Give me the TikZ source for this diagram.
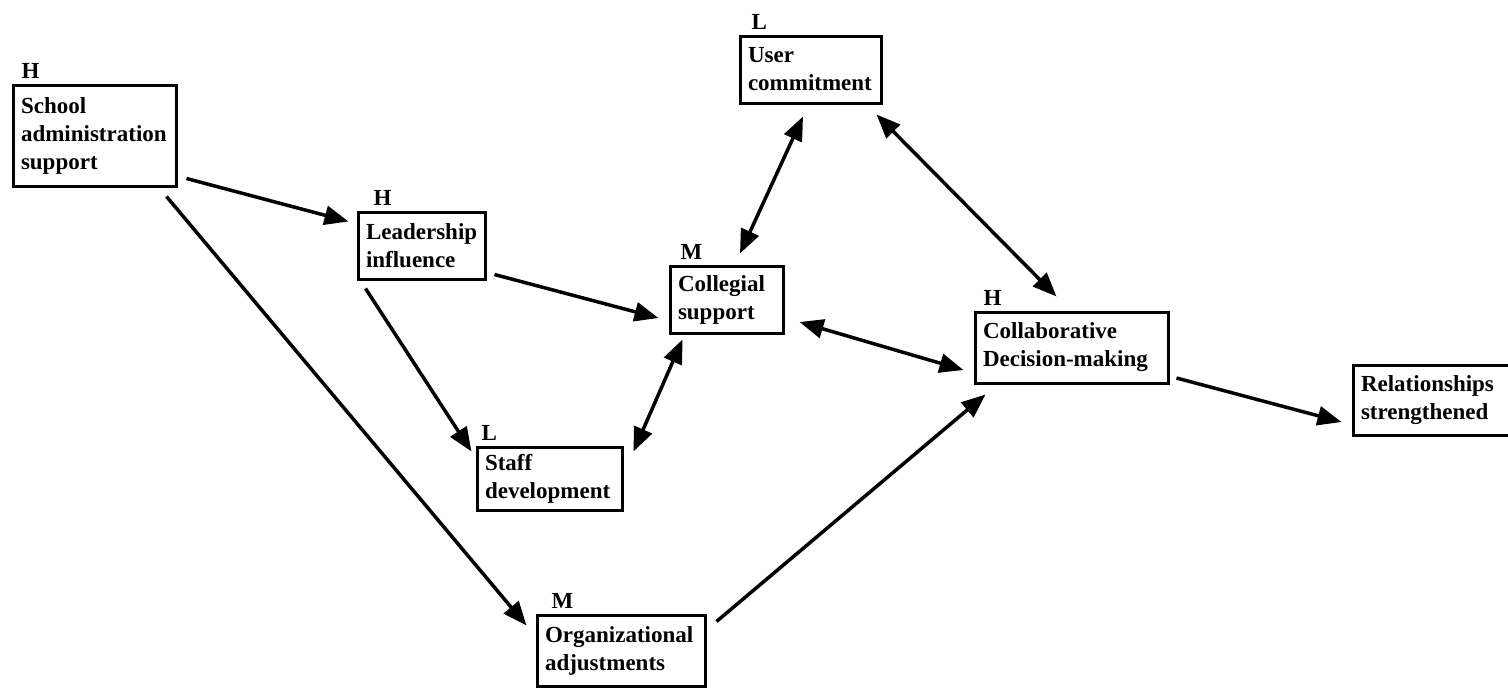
\documentclass[tikz,border=0pt]{standalone}
\usepackage{fontspec}
\setmainfont{Liberation Serif}
\usetikzlibrary{arrows.meta,calc}
\tikzset{
  box/.style={draw, line width=3pt, align=left, inner xsep=7pt, inner ysep=0pt},
  lvl/.style={anchor=south west, inner sep=0pt, yshift=5pt},
  tip/.tip={Triangle[length=24pt,width=19pt]},
  oneway/.style={line width=3.5pt, -tip},
  twoway/.style={line width=3.5pt, tip-tip}
}
\begin{document}
\begin{tikzpicture}[x=1pt, y=-1pt, font=\fontsize{23}{28}\selectfont\bfseries]
\useasboundingbox (0,0) rectangle (1508,689);
\clip (0,0) rectangle (1508,689);

% factor boxes with their level ratings
\node[box, minimum width=163pt, minimum height=101pt, text width=147pt,
      label={[lvl, xshift=10pt]north west:H}] (school) at (94.5,135.5)
      {School\\administration\\support};
\node[box, minimum width=127pt, minimum height=67pt, text width=111pt,
      label={[lvl, xshift=17pt]north west:H}] (lead) at (421.5,245.5)
      {Leadership\\influence};
\node[box, minimum width=141pt, minimum height=67pt, text width=125pt,
      label={[lvl, xshift=13pt]north west:L}] (user) at (810.5,69.5)
      {User\\commitment};
\node[box, minimum width=113pt, minimum height=67pt, text width=97pt,
      label={[lvl, xshift=12pt]north west:M}] (coll) at (726.5,299.5)
      {Collegial\\support};
\node[box, minimum width=193pt, minimum height=71pt, text width=177pt,
      label={[lvl, xshift=10pt]north west:H}] (collab) at (1071.5,347.5)
      {Collaborative\\Decision-making};
% this box runs on past the right edge
\node[box, minimum width=190pt, minimum height=70pt, text width=174pt] (rel) at (1448,400)
      {Relationships\\strengthened};
\node[box, minimum width=145pt, minimum height=63pt, text width=129pt,
      label={[lvl, xshift=6pt]north west:L}] (staff) at (549.5,478.5)
      {Staff\\development};
\node[box, minimum width=168pt, minimum height=71pt, text width=152pt,
      label={[lvl, xshift=16pt]north west:M}] (org) at (621,650.5)
      {Organizational\\adjustments};

% one-way influences
\draw[oneway] ($(school.south east)+(9,-9)$) -- ($(lead.north west)+(-8,11)$);
\draw[oneway] ($(school.south east)+(-11,9)$) -- ($(org.north west)+(-9,12)$);
\draw[oneway] ($(lead.south east)+(8,-6)$) -- ($(coll.west)+(-10,18.5)$);
\draw[oneway] ($(lead.south west)+(9,8)$) -- ($(staff.north west)+(-4,6)$);
\draw[oneway] ($(org.north east)+(10,8)$) -- ($(collab.south west)+(12,10)$);
\draw[oneway] ($(collab.east)+(7,30.5)$) -- ($(rel.west)+(-10,22)$);

% mutual influences
\draw[twoway] ($(staff.north east)+(10,6)$) -- ($(coll.south west)+(14,5)$);
\draw[twoway] ($(coll.north)+(13.5,-11)$) -- ($(user.south)+(-7.5,12)$);
\draw[twoway] ($(user.south east)+(-6,10)$) -- ($(collab.north west)+(83,-14)$);
\draw[twoway] ($(coll.east)+(15,22.5)$) -- ($(collab.west)+(-10,22.5)$);
\end{tikzpicture}
\end{document}
